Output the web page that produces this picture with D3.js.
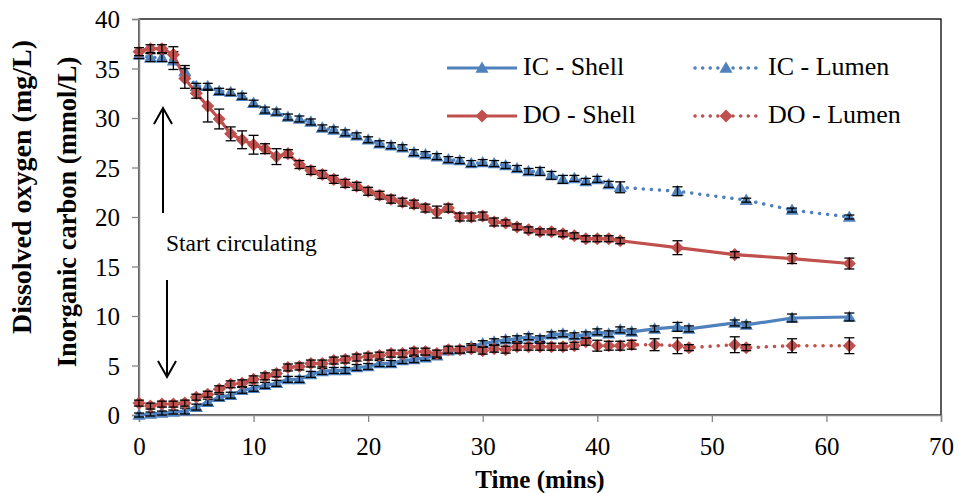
<!DOCTYPE html>
<html>
<head>
<meta charset="utf-8">
<script src="https://cdn.jsdelivr.net/npm/d3@7"></script>
<style>
  body { margin: 0; background: #fff; }
  svg text { font-family: "Liberation Serif", "Times New Roman", serif; fill: #000; }
</style>
</head>
<body>
<svg id="chart" width="959" height="493"></svg>
<script>
// time points (mins)
var timeUpper = [0,1,2,3,4,5,6,7,8,9,10,11,12,13,14,15,16,17,18,19,20,21,22,23,24,25,26,27,28,29,30,31,32,33,34,35,36,37,38,39,40,41,42];
var timeIcLumen = timeUpper.concat([47,53,57,62]);
var timeDoShell = timeUpper.concat([47,52,57,62]);
var timeLower = [0,1,2,3,4,5,6,7,8,9,10,11,12,13,14,15,16,17,18,19,20,21,22,23,24,25,26,27,28,29,30,31,32,33,34,35,36,37,38,39,40,41,42,43,45,47,48,52,53,57,62];

// IC - Shell (mmol/L)
var icShell = [0.0,0.1,0.2,0.3,0.4,0.8,1.3,1.8,2.0,2.5,2.7,3.0,3.2,3.6,3.6,4.1,4.4,4.5,4.5,4.8,4.9,5.2,5.2,5.5,5.6,5.8,6.0,6.5,6.6,6.9,7.2,7.4,7.6,7.7,7.9,7.7,8.1,8.2,8.0,8.1,8.4,8.2,8.6,8.4,8.7,8.9,8.7,9.3,9.1,9.8,9.9];
var icShellErr = [0.2,0.2,0.2,0.2,0.3,0.3,0.3,0.3,0.3,0.3,0.3,0.3,0.3,0.3,0.3,0.3,0.3,0.3,0.3,0.3,0.3,0.3,0.3,0.3,0.3,0.3,0.3,0.3,0.3,0.3,0.3,0.3,0.3,0.3,0.3,0.3,0.3,0.3,0.3,0.3,0.3,0.3,0.3,0.3,0.3,0.45,0.3,0.3,0.3,0.4,0.4];

// IC - Lumen (mmol/L)
var icLumen = [36.4,36.1,36.1,35.8,34.7,33.2,33.2,32.7,32.6,32.2,31.5,30.8,30.6,30.1,29.9,29.6,29.0,28.8,28.5,28.2,27.8,27.4,27.2,27.0,26.5,26.3,26.1,25.8,25.7,25.4,25.5,25.4,25.2,24.9,24.6,24.6,24.2,23.8,23.9,23.6,23.8,23.3,23.0,22.6,21.7,20.7,20.0];
var icLumenErr = [0.4,0.4,0.4,0.9,0.6,0.3,0.3,0.3,0.3,0.3,0.3,0.3,0.3,0.3,0.3,0.3,0.3,0.3,0.3,0.3,0.3,0.3,0.3,0.3,0.3,0.3,0.3,0.3,0.3,0.3,0.3,0.3,0.3,0.3,0.3,0.4,0.4,0.4,0.3,0.3,0.3,0.3,0.55,0.45,0.2,0.2,0.2];

// DO - Shell (mg/L)
var doShell = [36.7,37.0,37.0,36.4,34.0,32.5,31.2,29.9,28.4,27.8,27.3,26.9,26.1,26.4,25.3,24.7,24.3,23.8,23.4,23.1,22.6,22.2,21.8,21.5,21.3,20.9,20.5,20.9,20.0,20.0,20.1,19.5,19.4,19.0,18.7,18.5,18.5,18.3,18.1,17.8,17.8,17.8,17.6,16.9,16.2,15.8,15.3];
var doShellErr = [0.4,0.4,0.4,0.8,1.0,0.5,1.6,1.0,0.7,0.9,0.95,0.5,0.8,0.4,0.4,0.4,0.4,0.4,0.4,0.4,0.4,0.4,0.4,0.4,0.4,0.4,0.6,0.4,0.4,0.4,0.4,0.4,0.3,0.3,0.3,0.3,0.3,0.3,0.3,0.3,0.3,0.3,0.3,0.7,0.3,0.5,0.55];

// DO - Lumen (mg/L)
var doLumen = [1.2,0.9,1.1,1.1,1.2,1.8,2.1,2.6,3.1,3.2,3.6,3.9,4.2,4.8,4.9,5.2,5.2,5.5,5.6,5.8,5.9,6.0,6.2,6.2,6.4,6.4,6.2,6.6,6.6,6.7,6.5,6.7,6.6,6.9,6.9,6.9,6.9,6.9,7.0,7.4,7.0,7.0,7.0,7.1,7.1,7.0,6.8,7.1,6.8,7.0,7.0];
var doLumenErr = [0.3,0.3,0.3,0.3,0.3,0.3,0.3,0.35,0.35,0.35,0.35,0.35,0.35,0.35,0.35,0.35,0.35,0.35,0.35,0.35,0.35,0.35,0.35,0.35,0.35,0.35,0.35,0.35,0.35,0.35,0.35,0.35,0.35,0.35,0.35,0.35,0.35,0.35,0.35,0.35,0.55,0.45,0.45,0.45,0.6,0.8,0.3,0.8,0.3,0.7,0.8];

var xTicks = [0,10,20,30,40,50,60,70];
var yTicks = [0,5,10,15,20,25,30,35,40];

var blue = "#4F81BD", red = "#C0504D";

var series = [
    {name: "IC - Shell", t: timeLower, v: icShell, e: icShellErr, color: blue, marker: "tri", dotted: false},
    {name: "IC - Lumen", t: timeIcLumen, v: icLumen, e: icLumenErr, color: blue, marker: "tri", dotted: true},
    {name: "DO - Shell", t: timeDoShell, v: doShell, e: doShellErr, color: red, marker: "dia", dotted: false},
    {name: "DO - Lumen", t: timeLower, v: doLumen, e: doLumenErr, color: red, marker: "dia", dotted: true}
];

var svg = d3.select("#chart");

var x = d3.scaleLinear().domain([0, 70]).range([139, 941]);
var y = d3.scaleLinear().domain([0, 40]).range([415, 19]);

// plot frame (top/right black)
svg.append("rect")
    .attr("x", x(0)).attr("y", y(40))
    .attr("width", x(70) - x(0)).attr("height", y(0) - y(40))
    .attr("fill", "none").attr("stroke", "#000").attr("stroke-width", 1.3);

var xAxis = svg.append("g")
    .attr("transform", "translate(0," + y(0) + ")")
    .call(d3.axisBottom(x).tickValues(xTicks).tickSize(7).tickPadding(12).tickFormat(d3.format("d")));
var yAxis = svg.append("g")
    .attr("transform", "translate(" + x(0) + ",0)")
    .call(d3.axisLeft(y).tickValues(yTicks).tickSize(7).tickPadding(12).tickFormat(d3.format("d")));

[xAxis, yAxis].forEach(function(a) {
    a.select(".domain").attr("stroke", "#868686").attr("stroke-width", 1.5);
    a.selectAll(".tick line").attr("stroke", "#868686").attr("stroke-width", 1.3);
    a.selectAll(".tick text")
        .style("font-family", "Liberation Serif")
        .style("font-size", "25px");
});
yAxis.selectAll(".tick text").attr("dy", "0.34em");
xAxis.selectAll(".tick text").attr("dy", "0.85em");

// axis titles
svg.append("text")
    .attr("x", x(35)).attr("y", 488)
    .attr("text-anchor", "middle")
    .style("font-size", "25px").style("font-weight", "bold")
    .text("Time (mins)");

svg.append("text")
    .attr("transform", "translate(31,187) rotate(-90)")
    .attr("text-anchor", "middle")
    .style("font-size", "28px").style("font-weight", "bold")
    .text("Dissolved oxygen (mg/L)");

svg.append("text")
    .attr("transform", "translate(76,212) rotate(-90)")
    .attr("text-anchor", "middle")
    .style("font-size", "26.5px").style("font-weight", "bold")
    .text("Inorganic carbon (mmol/L)");

function markerPath(type) {
    if (type == "tri") {
        return d3.symbol().type(d3.symbolTriangle).size(75)();
    }
    return d3.symbol().type(d3.symbolSquare).size(85)();
}

function markerTransform(type, px, py) {
    if (type == "tri") {
        return "translate(" + px + "," + (py + 1) + ")";
    }
    return "translate(" + px + "," + py + ") rotate(45)";
}

var line = d3.line()
    .x(function(d) { return x(d.t); })
    .y(function(d) { return y(d.v); });

series.forEach(function(s) {
    var pts = s.v.map(function(v, i) { return {t: s.t[i], v: v, e: s.e[i]}; });
    var g = svg.append("g");

    g.append("path")
        .datum(pts)
        .attr("d", line)
        .attr("fill", "none")
        .attr("stroke", s.color)
        .attr("stroke-width", s.dotted ? 3.5 : 3.2)
        .attr("stroke-linecap", s.dotted ? "round" : "butt")
        .attr("stroke-dasharray", s.dotted ? "0.1,8" : null);

    g.selectAll(".mk")
        .data(pts)
        .enter().append("path")
        .attr("d", markerPath(s.marker))
        .attr("transform", function(d) { return markerTransform(s.marker, x(d.t), y(d.v)); })
        .attr("fill", s.color);

    var eb = g.selectAll(".eb")
        .data(pts)
        .enter().append("g")
        .attr("stroke", "#000")
        .attr("stroke-width", 1.3);
    eb.append("line")
        .attr("x1", function(d) { return x(d.t); })
        .attr("x2", function(d) { return x(d.t); })
        .attr("y1", function(d) { return y(d.v + d.e); })
        .attr("y2", function(d) { return y(d.v - d.e); });
    eb.append("line")
        .attr("x1", function(d) { return x(d.t) - 5; })
        .attr("x2", function(d) { return x(d.t) + 5; })
        .attr("y1", function(d) { return y(d.v + d.e); })
        .attr("y2", function(d) { return y(d.v + d.e); });
    eb.append("line")
        .attr("x1", function(d) { return x(d.t) - 5; })
        .attr("x2", function(d) { return x(d.t) + 5; })
        .attr("y1", function(d) { return y(d.v - d.e); })
        .attr("y2", function(d) { return y(d.v - d.e); });
});

// legend
var legendPos = [
    {x: 447, y: 68}, {x: 693, y: 68}, {x: 447, y: 116}, {x: 693, y: 116}
];
series.forEach(function(s, i) {
    var p = legendPos[i];
    var lg = svg.append("g").attr("transform", "translate(" + p.x + "," + p.y + ")");
    lg.append("line")
        .attr("x1", s.dotted ? 2 : 0).attr("x2", s.dotted ? 64 : 70)
        .attr("y1", 0).attr("y2", 0)
        .attr("stroke", s.color)
        .attr("stroke-width", s.dotted ? 3.5 : 3.2)
        .attr("stroke-linecap", s.dotted ? "round" : "butt")
        .attr("stroke-dasharray", s.dotted ? "0.1,7.5" : null);
    lg.append("path")
        .attr("d", markerPath(s.marker))
        .attr("transform", markerTransform(s.marker, s.dotted ? 33 : 35, 0))
        .attr("fill", s.color);
    lg.append("text")
        .attr("x", s.dotted ? 75 : 76).attr("y", 7)
        .style("font-size", "26px")
        .text(s.name);
});

// annotation
function arrow(x0, yTail, yHead) {
    var dir = yHead < yTail ? 1 : -1;
    svg.append("line")
        .attr("x1", x0).attr("x2", x0)
        .attr("y1", yTail).attr("y2", yHead)
        .attr("stroke", "#000").attr("stroke-width", 2);
    svg.append("path")
        .attr("d", "M" + (x0 - 9) + "," + (yHead + dir * 16) + "L" + x0 + "," + yHead + "L" + (x0 + 9) + "," + (yHead + dir * 16))
        .attr("fill", "none").attr("stroke", "#000").attr("stroke-width", 2);
}
arrow(163, 213, 108);
arrow(167, 280, 377);

svg.append("text")
    .attr("x", 166).attr("y", 251)
    .style("font-size", "23.5px")
    .text("Start circulating");
</script>
</body>
</html>
